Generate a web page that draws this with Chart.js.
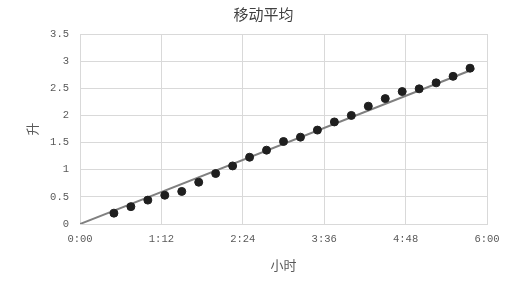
<!DOCTYPE html>
<html>
<head>
<meta charset="utf-8">
<script src="https://cdn.jsdelivr.net/npm/chart.js@4"></script>
<style>
  html, body { margin: 0; padding: 0; background: #fff; }
  #wrap { width: 527px; height: 281px; }
</style>
</head>
<body>
<div id="wrap"><canvas id="c" width="527" height="281"></canvas></div>
<script>
// Data (time in minutes, volume in litres)
const titleText = '移动平均';
const xTitle = '小时';
const yTitle = '升';
const pointMinutes = [30, 45, 60, 75, 90, 105, 120, 135, 150, 165, 180, 195, 210, 225, 240, 255, 270, 285, 300, 315, 330, 345];
const pointLitres = [0.20, 0.32, 0.44, 0.53, 0.60, 0.77, 0.93, 1.07, 1.23, 1.36, 1.52, 1.60, 1.73, 1.88, 2.00, 2.17, 2.31, 2.44, 2.49, 2.60, 2.72, 2.87];
const trendMinutes = [0, 349];
const trendLitres = [0, 2.86];
const xTickStep = 72;
const xMax = 360;
const yMax = 3.5;
const yTickStep = 0.5;

const toXY = (xs, ys) => xs.map((x, i) => ({ x: x, y: ys[i] }));
const fmtTime = (m) => Math.floor(m / 60) + ':' + String(Math.round(m % 60)).padStart(2, '0');

const cjk = "'Noto Sans CJK SC', sans-serif";
const mono = "'Liberation Mono', 'DejaVu Sans Mono', monospace";
const gridColor = '#d9d9d9';

new Chart(document.getElementById('c'), {
  type: 'scatter',
  data: {
    datasets: [
      {
        type: 'line',
        data: toXY(trendMinutes, trendLitres),
        borderColor: '#808080',
        borderWidth: 2,
        pointRadius: 0,
        fill: false,
        order: 2
      },
      {
        data: toXY(pointMinutes, pointLitres),
        backgroundColor: '#1f1f1f',
        borderColor: '#1f1f1f',
        pointRadius: 4,
        order: 1
      }
    ]
  },
  options: {
    responsive: false,
    animation: false,
    layout: { padding: 0 },
    plugins: {
      legend: { display: false },
      tooltip: { enabled: false },
      title: {
        display: true,
        text: titleText,
        color: '#404040',
        font: { family: cjk, size: 15, weight: 'normal' },
        padding: { top: 5, bottom: 11 }
      }
    },
    scales: {
      x: {
        type: 'linear',
        min: 0,
        max: xMax,
        afterFit: (s) => { s.height = 57; },
        grid: { color: gridColor, drawTicks: false },
        border: { color: gridColor },
        ticks: {
          stepSize: xTickStep,
          padding: 9,
          color: '#595959',
          font: { family: mono, size: 10.5 },
          callback: (v) => fmtTime(v),
          maxRotation: 0,
          autoSkip: false
        },
        title: {
          display: true,
          text: xTitle,
          color: '#595959',
          font: { family: cjk, size: 13 },
          padding: { top: 0, bottom: 8 }
        }
      },
      y: {
        min: 0,
        max: yMax,
        afterFit: (s) => { s.width = 80; },
        grid: { color: gridColor, drawTicks: false },
        border: { color: gridColor },
        ticks: {
          stepSize: yTickStep,
          padding: 11,
          color: '#595959',
          font: { family: mono, size: 10.5 },
          callback: (v) => String(v)
        },
        title: {
          display: true,
          text: yTitle,
          color: '#595959',
          font: { family: cjk, size: 13 },
          padding: { top: 24, bottom: 0 }
        }
      },
      spacer: {
        position: 'right',
        min: 0,
        max: 1,
        afterFit: (s) => { s.width = 40; },
        grid: { display: false, drawTicks: false },
        border: { display: false },
        ticks: { display: false }
      }
    }
  }
});
</script>
</body>
</html>
